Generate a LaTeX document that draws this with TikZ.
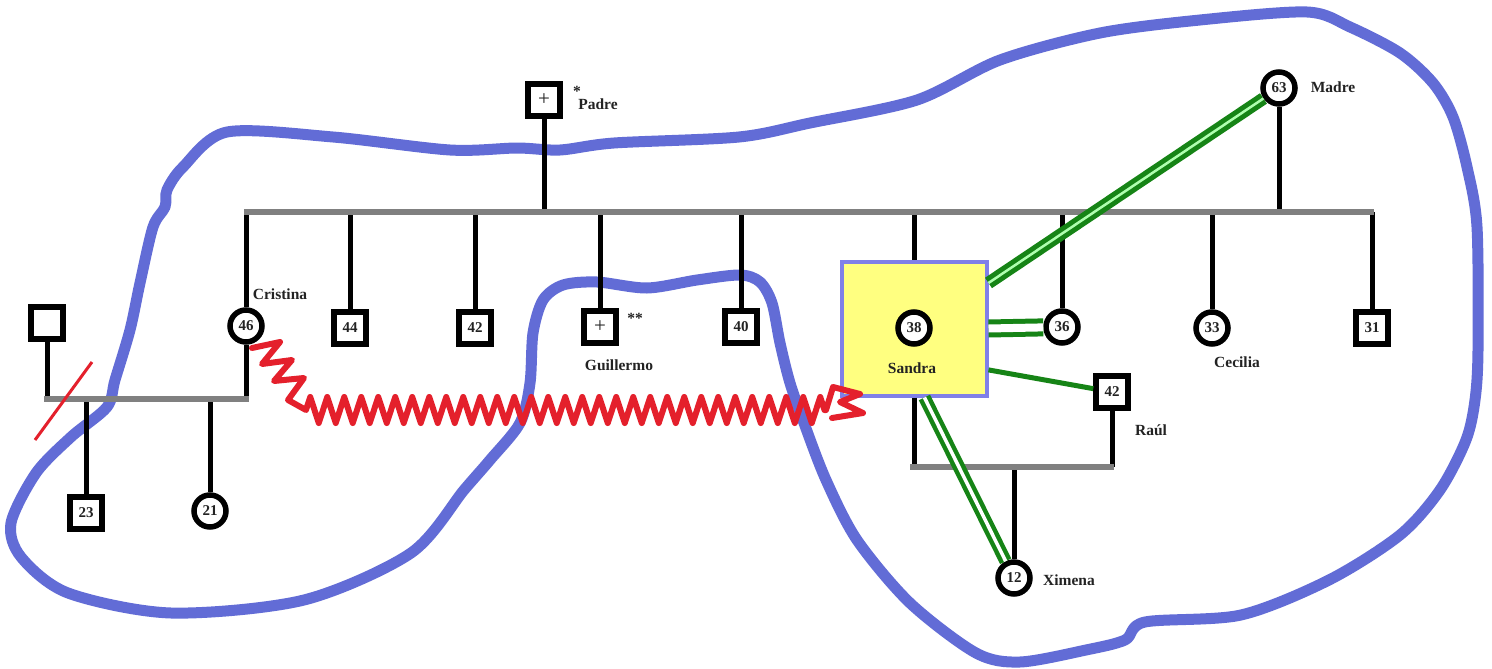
\documentclass[tikz,border=0pt]{standalone}
\usepackage{fontspec}
\setmainfont{Liberation Serif}
\usetikzlibrary{decorations.pathmorphing,calc}
\definecolor{hblue}{RGB}{98,108,214}
\definecolor{hred}{RGB}{228,32,44}
\definecolor{hgreen}{RGB}{22,132,22}
\definecolor{hlgreen}{RGB}{175,255,175}
\definecolor{hgray}{RGB}{128,128,128}
\definecolor{hyellow}{RGB}{255,255,128}
\definecolor{hboxblue}{RGB}{128,128,232}
\definecolor{htext}{RGB}{35,35,35}
\begin{document}
\begin{tikzpicture}[x=1pt,y=-1pt,
  male/.style={rectangle, draw=black, line width=5.5pt, minimum size=32pt, inner sep=0pt, fill=white, text=htext, font=\fontsize{15}{15}\selectfont\bfseries},
  female/.style={circle, draw=black, line width=5.5pt, minimum size=32pt, inner sep=0pt, fill=white, text=htext, font=\fontsize{15}{15}\selectfont\bfseries},
  dead/.style={male, font=\fontsize{21}{21}\selectfont},
  lbl/.style={inner sep=0pt, text=htext, font=\fontsize{15.5}{15.5}\selectfont\bfseries},
  kin/.style={draw=black, line width=5pt},
  union/.style={draw=hgray, line width=5.5pt},
  hull/.style={draw=hblue, line width=11pt, line join=round, line cap=round},
  conflict/.style={draw=hred, line width=6pt, line join=round, line cap=round},
  close2/.style={draw=hgreen, line width=5pt, double=hlgreen, double distance=2.5pt},
  wide2/.style={draw=hgreen, line width=5pt, double=white, double distance=8pt},
  tight2/.style={draw=hgreen, line width=4.5pt, double=white, double distance=3.5pt},
  tie/.style={draw=hgreen, line width=5pt}]
\fill[white] (0,0) rectangle (1492,669);
\useasboundingbox (0,0) rectangle (1492,669);

% blue enclosure
\draw[hull] plot[smooth cycle, tension=0.5] coordinates {
 (227,132) (333,137) (450,150) (517,148) (560,150) (614,143) (739,137) (810,123)
 (917,100) (1000,60) (1100,33) (1200,20) (1307,12) (1350,27) (1400,53) (1433,83)
 (1453,117) (1467,167) (1477,227) (1478,350) (1475,400) (1466,440) (1440,490)
 (1400,535) (1329,580) (1241,615) (1145,622) (1125,640) (1086,650) (1020,662)
 (976,653) (910,603) (857,540) (826,480) (804,423) (790,383) (780,343) (772,303)
 (760,282) (740,275) (697,280) (647,288) (597,282) (563,285) (543,300) (533,333)
 (530,383) (520,423) (490,460) (464,490) (411,553) (304,600) (171,613) (68,593)
 (21,557) (11,523) (36,473) (71,437) (107,407) (115,380) (130,330) (140,283)
 (153,227) (165,207) (167,190) (183,167)};

% persons
\node[dead] (padre) at (544,100) {+};
\node[female] (madre) at (1279,88) {63};
\node[female] (cristina) at (246,326) {46};
\node[male] (n44) at (350,328) {44};
\node[male] (n42) at (475,328) {42};
\node[dead] (guillermo) at (600,327) {+};
\node[male] (n40) at (741,327) {40};
\node[rectangle, draw=hboxblue, line width=4pt, fill=hyellow, minimum width=145pt, minimum height=134pt] (sbox) at (914,328.5) {};
\node[female] (s38) at (914,328) {38};
\node[female] (n36) at (1062,327) {36};
\node[female] (n33) at (1212,328) {33};
\node[male] (n31) at (1372,328) {31};
\node[male] (raul) at (1112,392) {42};
\node[female] (ximena) at (1014,578) {12};
\node[male] (ex) at (47,323) {};
\node[male] (n23) at (86,513) {23};
\node[female] (n21) at (210,511) {21};

% sibship
\coordinate (sibL) at (244,212);
\coordinate (sibR) at (1374,212);
\draw[kin] (padre) -- (padre |- sibL);
\draw[kin] (madre) -- (madre |- sibL);
\draw[kin] (cristina |- sibL) -- (cristina);
\draw[kin] (n44 |- sibL) -- (n44);
\draw[kin] (n42 |- sibL) -- (n42);
\draw[kin] (guillermo |- sibL) -- (guillermo);
\draw[kin] (n40 |- sibL) -- (n40);
\draw[kin] (sbox |- sibL) -- (sbox.north);
\draw[kin] (n36 |- sibL) -- (n36);
\draw[kin] (n33 |- sibL) -- (n33);
\draw[kin] (n31 |- sibL) -- (n31);
\draw[union] (sibL) -- (sibR);

% Cristina's union
\coordinate (lu) at (44,399);
\coordinate (ru) at (249,399);
\draw[kin] (ex) -- (ex |- lu);
\draw[kin] (cristina) -- (cristina |- lu);
\draw[kin] (n23 |- lu) -- (n23);
\draw[kin] (n21 |- lu) -- (n21);
\draw[union] (lu) -- (ru);
\coordinate (d1) at (35,440);
\coordinate (d2) at (92,362);
\draw[draw=hred, line width=3pt] (d1) -- (d2);

% Sandra's union
\coordinate (su) at (910,467);
\coordinate (rsu) at (1114,467);
\draw[kin] (sbox.south) -- (sbox.south |- su);
\draw[kin] (raul) -- (raul |- su);
\draw[kin] (ximena |- su) -- (ximena);
\draw[union] (su) -- (rsu);

% green relations
\draw[close2] ($(sbox.north east)!0.17!(sbox.south east)$) -- (madre);
\draw[wide2] (sbox.east) -- (n36);
\draw[tie] ($(sbox.north east)!0.8!(sbox.south east)$) -- (raul);
\draw[tight2] ($(sbox.south west)!0.57!(sbox.south east)$) -- (ximena);

% conflict
\coordinate (c0) at (252,348);
\coordinate (c1) at (306,410);
\coordinate (c2) at (826,410);
\draw[conflict] (c0) -- (280,342) -- (262,364) -- (292,360) -- (274,381) -- (304,378) -- (288,400) -- (c1)
  decorate[decoration={zigzag, segment length=17pt, amplitude=13pt}] { -- (c2) }
  -- (833,387) -- (860,394) -- (840,402) -- (863,413) -- (832,418);

% labels
\node[lbl] (tpadre) at (598,104) {Padre};
\node[lbl] (tstar) at (577,91) {*};
\node[lbl] (tmadre) at (1333,87) {Madre};
\node[lbl] (tcristina) at (280,294) {Cristina};
\node[lbl] (tguillermo) at (619,365) {Guillermo};
\node[lbl] (tstars) at (635,318) {**};
\node[lbl] (tsandra) at (912,368) {Sandra};
\node[lbl] (tcecilia) at (1237,362) {Cecilia};
\node[lbl] (traul) at (1151,430) {Raúl};
\node[lbl] (tximena) at (1069,580) {Ximena};
\end{tikzpicture}
\end{document}
